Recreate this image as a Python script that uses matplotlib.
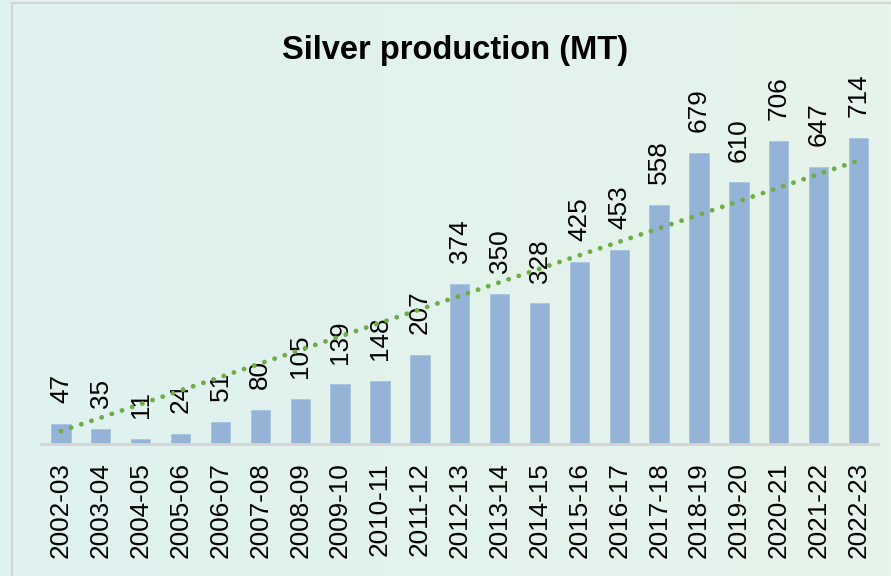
import numpy as np
import matplotlib
matplotlib.use('Agg')
import matplotlib.pyplot as plt
from matplotlib.colors import LinearSegmentedColormap
from matplotlib.patches import Rectangle

years = ['2002-03', '2003-04', '2004-05', '2005-06', '2006-07', '2007-08', '2008-09',
         '2009-10', '2010-11', '2011-12', '2012-13', '2013-14', '2014-15', '2015-16',
         '2016-17', '2017-18', '2018-19', '2019-20', '2020-21', '2021-22', '2022-23']
production = [47, 35, 11, 24, 51, 80, 105, 139, 148, 207, 374, 350, 328, 425,
              453, 558, 679, 610, 706, 647, 714]
# trend line ends
trend_ends = [30, 661]

plt.rcParams['font.family'] = ['Liberation Sans', 'DejaVu Sans']

fig = plt.figure(figsize=(8.91, 5.76), dpi=100)

# background gradient
bg = fig.add_axes([0, 0, 1, 1], zorder=0)
cmap = LinearSegmentedColormap.from_list('bg', ['#DFF2F0', '#E6F4EA'])
bg.imshow(np.linspace(0, 1, 256).reshape(1, -1), cmap=cmap, aspect='auto',
          extent=[0, 1, 0, 1])
bg.axis('off')

# chart border
fig.patches.append(Rectangle((12 / 891, -0.1), 1.2, 1 - 3 / 576 + 0.1,
                             transform=fig.transFigure, fill=False,
                             edgecolor='#D4D4D4', linewidth=1.5, zorder=1))

ax = fig.add_axes([41 / 891, 132 / 576, 837.5 / 891, 343 / 576], zorder=2)
ax.patch.set_alpha(0)

x = np.arange(len(years))
ax.bar(x, production, width=0.485, color='#95B3D7', edgecolor='#A9C3E0',
       linewidth=0.6, zorder=2)

for xi, v in zip(x, production):
    ax.annotate(str(v), (xi, v), xytext=(0, 15), textcoords='offset points',
                rotation=90, ha='center', va='bottom', fontsize=18.8,
                annotation_clip=False)

ax.plot([x[0], x[-1]], trend_ends, color='#70AD47', linewidth=3.5,
        linestyle=(0, (0.01, 2.2)), dash_capstyle='round', zorder=3)

ax.set_xlim(-0.5, len(years) - 0.5)
ax.set_ylim(0, 800)
ax.set_xticks(x)
ax.set_xticklabels(years, rotation=90, fontsize=18.8)
ax.tick_params(axis='x', length=0, pad=13)
ax.set_yticks([])
for side in ['top', 'right', 'left']:
    ax.spines[side].set_visible(False)
ax.spines['bottom'].set_color('#D4D4D4')
ax.spines['bottom'].set_linewidth(2)

fig.text(0.511, 0.912, 'Silver production (MT)', ha='center', va='center',
         fontsize=23.5, fontweight='bold')

fig.savefig('out.png', dpi=100)
